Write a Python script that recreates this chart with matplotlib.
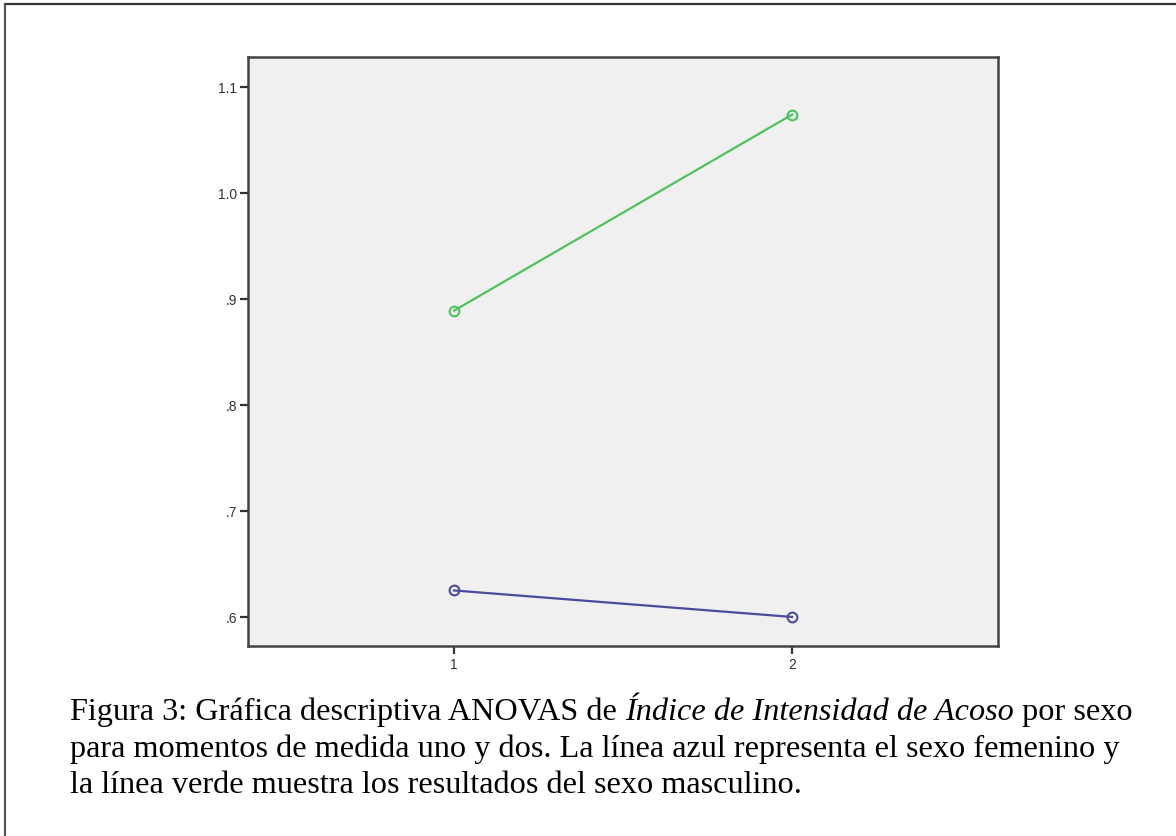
import matplotlib
matplotlib.use("Agg")
import matplotlib.pyplot as plt
from matplotlib.lines import Line2D

# Data
momentos = [1, 2]
masculino = [0.889, 1.074]   # green line
femenino = [0.625, 0.600]    # blue line
yticks = [0.6, 0.7, 0.8, 0.9, 1.0, 1.1]
ytick_labels = [".6", ".7", ".8", ".9", "1.0", "1.1"]
xtick_labels = ["1", "2"]

W, H = 1176, 837
fig = plt.figure(figsize=(W / 100, H / 100), dpi=100)
fig.patch.set_facecolor("white")

# outer frame lines (top and left)
fig.add_artist(Line2D([4.5 / W, 1], [1 - 5 / H, 1 - 5 / H], transform=fig.transFigure,
                      color="#333333", lw=1.6))
fig.add_artist(Line2D([4.5 / W, 4.5 / W], [0, 1 - 5 / H], transform=fig.transFigure,
                      color="#555555", lw=1.6))

ax = fig.add_axes([248 / W, 1 - 647 / H, 750 / W, 589 / H])
ax.set_facecolor("#f0f0f0")
ax.plot(momentos, masculino, color="#4cc35c", lw=1.6, marker="o", markersize=7,
        markerfacecolor="none", markeredgecolor="#4cc35c", markeredgewidth=1.5)
ax.plot(momentos, femenino, color="#4b4b9c", lw=1.6, marker="o", markersize=7,
        markerfacecolor="none", markeredgecolor="#4b4b9c", markeredgewidth=1.5)

ax.set_xlim(0.3905, 2.609)
ax.set_ylim(0.5726, 1.1283)
ax.set_xticks(momentos)
ax.set_xticklabels(xtick_labels)
ax.set_yticks(yticks)
ax.set_yticklabels(ytick_labels)
for s in ax.spines.values():
    s.set_color("#444444")
    s.set_linewidth(1.8)
ax.tick_params(direction="out", length=6, width=1.6, color="#333333",
               labelsize=10, labelcolor="#333333", pad=2)
for lab in ax.get_xticklabels() + ax.get_yticklabels():
    lab.set_family("Liberation Sans")

# Caption
fs = 23.2
lines = [
    [("Figura 3: Gráfica descriptiva ANOVAS de ", "normal"),
     ("Índice de Intensidad de Acoso", "italic"),
     (" por sexo", "normal")],
    [("para momentos de medida uno y dos. La línea azul representa el sexo femenino y", "normal")],
    [("la línea verde muestra los resultados del sexo masculino.", "normal")],
]
baselines = [720, 757, 793]
fig.canvas.draw()
renderer = fig.canvas.get_renderer()
for segs, by in zip(lines, baselines):
    x = 70
    for txt, style in segs:
        t = fig.text(x / W, 1 - by / H, txt, family="Liberation Serif", style=style,
                     fontsize=fs, va="baseline", ha="left", color="black")
        bb = t.get_window_extent(renderer=renderer)
        x += bb.width

fig.savefig("out.png", dpi=100, facecolor="white")
